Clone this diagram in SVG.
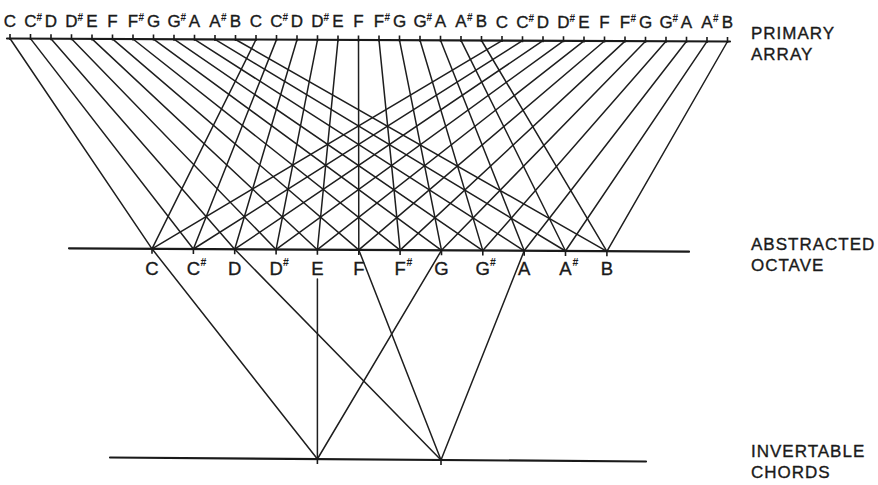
<svg xmlns="http://www.w3.org/2000/svg" width="878" height="485" viewBox="0 0 878 485">
<style>
.bg{fill:#ffffff}
.base{stroke:#1a1a1a;stroke-width:2.2;fill:none;stroke-linecap:round}
.tick{stroke:#1a1a1a;stroke-width:1.6;fill:none}
.con{stroke:#1e1e1e;stroke-width:1.5;fill:none;stroke-linecap:round}
.nt{font-family:"Liberation Sans",Arial,sans-serif;font-size:17px;fill:#1a1a1a;stroke:#1a1a1a;stroke-width:0.35;text-anchor:middle}
.ns{font-family:"Liberation Sans",Arial,sans-serif;font-size:10px;font-weight:bold;fill:#1a1a1a}
.ot{font-family:"Liberation Sans",Arial,sans-serif;font-size:18.5px;fill:#1a1a1a;stroke:#1a1a1a;stroke-width:0.35;text-anchor:middle}
.os{font-family:"Liberation Sans",Arial,sans-serif;font-size:10.5px;font-weight:bold;fill:#1a1a1a}
.lab{font-family:"Liberation Sans",Arial,sans-serif;font-size:17px;letter-spacing:1px;fill:#1a1a1a;stroke:#1a1a1a;stroke-width:0.35}
</style>
<rect class="bg" x="0" y="0" width="878" height="485"/>

<g id="connectors">
<line class="con" x1="10" y1="38.5" x2="152" y2="248.8"/>
<line class="con" x1="30.5" y1="38.6" x2="193.4" y2="249"/>
<line class="con" x1="51" y1="38.7" x2="234.7" y2="249.2"/>
<line class="con" x1="71.5" y1="38.8" x2="276.1" y2="249.4"/>
<line class="con" x1="92" y1="38.9" x2="317.4" y2="249.7"/>
<line class="con" x1="112.5" y1="38.9" x2="358.8" y2="249.9"/>
<line class="con" x1="133" y1="39" x2="400.1" y2="250.1"/>
<line class="con" x1="153.5" y1="39.1" x2="441.5" y2="250.3"/>
<line class="con" x1="174" y1="39.2" x2="482.8" y2="250.6"/>
<line class="con" x1="194.5" y1="39.3" x2="524.2" y2="250.8"/>
<line class="con" x1="215" y1="39.4" x2="565.5" y2="251"/>
<line class="con" x1="235.5" y1="39.5" x2="606.9" y2="251.3"/>
<line class="con" x1="256" y1="39.5" x2="152" y2="248.8"/>
<line class="con" x1="276.5" y1="39.6" x2="193.4" y2="249"/>
<line class="con" x1="297" y1="39.7" x2="234.7" y2="249.2"/>
<line class="con" x1="317.5" y1="39.8" x2="276.1" y2="249.4"/>
<line class="con" x1="338" y1="39.9" x2="317.4" y2="249.7"/>
<line class="con" x1="358.5" y1="40" x2="358.8" y2="249.9"/>
<line class="con" x1="379" y1="40.1" x2="400.1" y2="250.1"/>
<line class="con" x1="399.5" y1="40.1" x2="441.5" y2="250.3"/>
<line class="con" x1="420" y1="40.2" x2="482.8" y2="250.6"/>
<line class="con" x1="440.5" y1="40.3" x2="524.2" y2="250.8"/>
<line class="con" x1="461" y1="40.4" x2="565.5" y2="251"/>
<line class="con" x1="481.5" y1="40.5" x2="606.9" y2="251.3"/>
<line class="con" x1="502" y1="40.6" x2="152" y2="248.8"/>
<line class="con" x1="522.5" y1="40.7" x2="193.4" y2="249"/>
<line class="con" x1="543" y1="40.7" x2="234.7" y2="249.2"/>
<line class="con" x1="563.5" y1="40.8" x2="276.1" y2="249.4"/>
<line class="con" x1="584" y1="40.9" x2="317.4" y2="249.7"/>
<line class="con" x1="604.5" y1="41" x2="358.8" y2="249.9"/>
<line class="con" x1="625" y1="41.1" x2="400.1" y2="250.1"/>
<line class="con" x1="645.5" y1="41.2" x2="441.5" y2="250.3"/>
<line class="con" x1="666" y1="41.3" x2="482.8" y2="250.6"/>
<line class="con" x1="686.5" y1="41.3" x2="524.2" y2="250.8"/>
<line class="con" x1="707" y1="41.4" x2="565.5" y2="251"/>
<line class="con" x1="727.5" y1="41.5" x2="606.9" y2="251.3"/>
<line class="con" x1="152" y1="248.8" x2="317.4" y2="459"/>
<line class="con" x1="317.4" y1="279" x2="317.4" y2="459"/>
<line class="con" x1="441.5" y1="250.3" x2="317.4" y2="459"/>
<line class="con" x1="234.7" y1="249.2" x2="441" y2="460"/>
<line class="con" x1="358.8" y1="249.9" x2="441" y2="460"/>
<line class="con" x1="524.2" y1="250.8" x2="441" y2="460"/>
</g>

<g id="primary-array">
<line class="base" x1="7" y1="38.5" x2="730" y2="41.5"/>
<path class="tick" d="M10,34v6M30.5,34.1v6M51,34.2v6M71.5,34.3v6M92,34.4v6M112.5,34.4v6M133,34.5v6M153.5,34.6v6M174,34.7v6M194.5,34.8v6M215,34.9v6M235.5,35v6M256,35v6M276.5,35.1v6M297,35.2v6M317.5,35.3v6M338,35.4v6M358.5,35.5v6M379,35.6v6M399.5,35.6v6M420,35.7v6M440.5,35.8v6M461,35.9v6M481.5,36v6M502,36.1v6M522.5,36.2v6M543,36.2v6M563.5,36.3v6M584,36.4v6M604.5,36.5v6M625,36.6v6M645.5,36.7v6M666,36.8v6M686.5,36.8v6M707,36.9v6M727.5,37v6"/>
<text class="nt" x="10" y="26.5">C</text>
<text class="nt" x="30.5" y="26.5">C</text><text class="ns" x="36.5" y="20.5">#</text>
<text class="nt" x="51" y="26.5">D</text>
<text class="nt" x="71.5" y="26.5">D</text><text class="ns" x="77.5" y="20.5">#</text>
<text class="nt" x="92" y="26.5">E</text>
<text class="nt" x="112.5" y="26.5">F</text>
<text class="nt" x="133" y="26.5">F</text><text class="ns" x="138.5" y="20.5">#</text>
<text class="nt" x="153.5" y="26.5">G</text>
<text class="nt" x="174" y="26.5">G</text><text class="ns" x="180.5" y="20.5">#</text>
<text class="nt" x="194.5" y="26.5">A</text>
<text class="nt" x="215" y="26.5">A</text><text class="ns" x="221" y="20.5">#</text>
<text class="nt" x="235.5" y="26.5">B</text>
<text class="nt" x="256" y="27">C</text>
<text class="nt" x="276.5" y="27">C</text><text class="ns" x="282.5" y="21">#</text>
<text class="nt" x="297" y="27">D</text>
<text class="nt" x="317.5" y="27">D</text><text class="ns" x="323.5" y="21">#</text>
<text class="nt" x="338" y="27">E</text>
<text class="nt" x="358.5" y="27">F</text>
<text class="nt" x="379" y="27">F</text><text class="ns" x="384.5" y="21">#</text>
<text class="nt" x="399.5" y="27">G</text>
<text class="nt" x="420" y="27">G</text><text class="ns" x="426.5" y="21">#</text>
<text class="nt" x="440.5" y="27">A</text>
<text class="nt" x="461" y="27">A</text><text class="ns" x="467" y="21">#</text>
<text class="nt" x="481.5" y="27">B</text>
<text class="nt" x="502" y="27.5">C</text>
<text class="nt" x="522.5" y="27.5">C</text><text class="ns" x="528.5" y="21.5">#</text>
<text class="nt" x="543" y="27.5">D</text>
<text class="nt" x="563.5" y="27.5">D</text><text class="ns" x="569.5" y="21.5">#</text>
<text class="nt" x="584" y="27.5">E</text>
<text class="nt" x="604.5" y="27.5">F</text>
<text class="nt" x="625" y="27.5">F</text><text class="ns" x="630.5" y="21.5">#</text>
<text class="nt" x="645.5" y="27.5">G</text>
<text class="nt" x="666" y="27.5">G</text><text class="ns" x="672.5" y="21.5">#</text>
<text class="nt" x="686.5" y="27.5">A</text>
<text class="nt" x="707" y="27.5">A</text><text class="ns" x="713" y="21.5">#</text>
<text class="nt" x="727.5" y="27.5">B</text>
<text class="lab" x="751" y="39">PRIMARY</text>
<text class="lab" x="751" y="60">ARRAY</text>
</g>

<g id="abstracted-octave">
<line class="base" x1="69" y1="248.3" x2="689" y2="251.7"/>
<path class="tick" d="M152,248.8v5M193.4,249v5M234.7,249.2v5M276.1,249.4v5M317.4,249.7v5M358.8,249.9v5M400.1,250.1v5M441.5,250.3v5M482.8,250.6v5M524.2,250.8v5M565.5,251v5M606.9,251.3v5"/>
<g id="oct-C"><text class="ot" x="152" y="274.5">C</text></g>
<g id="oct-Cs"><text class="ot" x="193.4" y="274.5">C</text><text class="os" x="200.5" y="266">#</text></g>
<g id="oct-D"><text class="ot" x="234.7" y="274.5">D</text></g>
<g id="oct-Ds"><text class="ot" x="276.1" y="274.5">D</text><text class="os" x="283" y="266">#</text></g>
<g id="oct-E"><text class="ot" x="317.4" y="274.5">E</text></g>
<g id="oct-F"><text class="ot" x="358.8" y="274.5">F</text></g>
<g id="oct-Fs"><text class="ot" x="400.1" y="274.5">F</text><text class="os" x="406.5" y="266">#</text></g>
<g id="oct-G"><text class="ot" x="441.5" y="274.5">G</text></g>
<g id="oct-Gs"><text class="ot" x="482.8" y="274.5">G</text><text class="os" x="490" y="266">#</text></g>
<g id="oct-A"><text class="ot" x="524.2" y="274.5">A</text></g>
<g id="oct-As"><text class="ot" x="565.5" y="274.5">A</text><text class="os" x="572.5" y="266">#</text></g>
<g id="oct-B"><text class="ot" x="606.9" y="274.5">B</text></g>
<text class="lab" x="751" y="250">ABSTRACTED</text>
<text class="lab" x="751" y="271">OCTAVE</text>
</g>

<g id="invertable-chords">
<line class="base" x1="110" y1="457.5" x2="646" y2="461.5"/>
<g id="chord-1"><path class="tick" d="M317.4,459v5"/></g>
<g id="chord-2"><path class="tick" d="M441,460v5"/></g>
<text class="lab" x="751" y="457">INVERTABLE</text>
<text class="lab" x="751" y="478">CHORDS</text>
</g>
</svg>
